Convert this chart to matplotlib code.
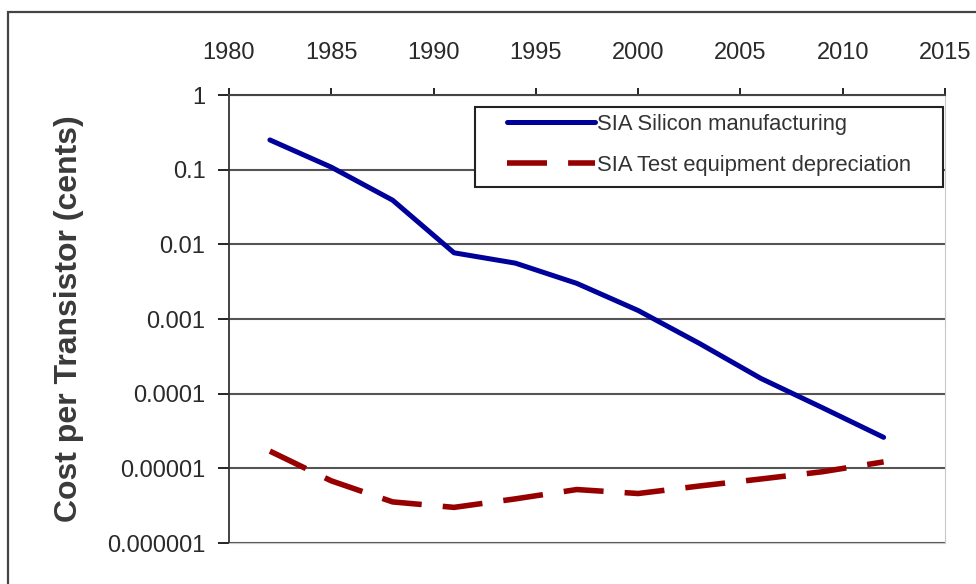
import matplotlib.pyplot as plt
from matplotlib.patches import Rectangle

plt.rcParams['font.family'] = ['Liberation Sans', 'DejaVu Sans']

# values
years = [1982, 1985, 1988, 1991, 1994, 1997, 2000, 2003, 2006, 2009, 2012]
silicon = [0.25, 0.108, 0.039, 0.0077, 0.0056, 0.0030, 0.0013, 0.00047, 0.00016, 0.000065, 0.000026]
test_equip = [1.7e-5, 6.8e-6, 3.55e-6, 3.0e-6, 3.9e-6, 5.2e-6, 4.6e-6, 5.8e-6, 7.2e-6, 9.0e-6, 1.22e-5]

x_ticks = [1980, 1985, 1990, 1995, 2000, 2005, 2010, 2015]
y_ticks = [1, 0.1, 0.01, 0.001, 0.0001, 0.00001, 0.000001]
y_labels = ['1', '0.1', '0.01', '0.001', '0.0001', '0.00001', '0.000001']

fig = plt.figure(figsize=(9.76, 5.84), dpi=100)
ax = fig.add_axes([229 / 976, 1 - 543 / 584, 716 / 976, 448 / 584])

# outer frame of the picture (cut off at right and bottom)
fig.patches.append(Rectangle((8 / 976, -0.1), 1.2, 1.1 - 12 / 584, transform=fig.transFigure,
                             fill=False, edgecolor='#444444', linewidth=1.6))

ax.plot(years, silicon, color='#00009a', linewidth=3.6, solid_capstyle='round',
        label='SIA Silicon manufacturing')
ax.plot(years, test_equip, color='#960000', linewidth=4, linestyle=(0, (7.2, 3.8)),
        dash_capstyle='butt', label='SIA Test equipment depreciation')

ax.set_yscale('log')
ax.set_ylim(1e-6, 1)
ax.set_xlim(1980, 2015)
ax.minorticks_off()
ax.set_yticks(y_ticks, y_labels)
ax.set_xticks(x_ticks)

ax.xaxis.tick_top()
ax.tick_params(axis='x', direction='out', length=5, width=1.2, pad=17, labelsize=17,
               labelcolor='#2a2a2a')
ax.tick_params(axis='y', direction='out', length=8, width=1.2, pad=9, labelsize=17,
               labelcolor='#2a2a2a')

ax.grid(axis='y', color='#555555', linewidth=1.5)
ax.set_axisbelow(True)
ax.spines['left'].set_color('#333333')
ax.spines['left'].set_linewidth(1.3)
ax.spines['top'].set_color('#444444')
ax.spines['top'].set_linewidth(1.5)
ax.spines['right'].set_color('#c8c8c8')
ax.spines['bottom'].set_color('#c8c8c8')

ax.set_ylabel('Cost per Transistor (cents)', fontsize=23, fontweight='bold', color='#3a3a3a')
ax.yaxis.set_label_coords(-0.203, 0.5)

# legend box drawn separately so the handles can sit inset like the original
ax.add_patch(Rectangle(((475 - 229) / 716, (543 - 187) / 448), 468 / 716, 80 / 448,
                       transform=ax.transAxes, facecolor='white', edgecolor='#222222',
                       linewidth=1.5, zorder=4))
leg = ax.legend(loc='upper left', bbox_to_anchor=((507 - 229) / 716, (543 - 114) / 448),
                fontsize=15.8, frameon=False, handlelength=4.0, handletextpad=0.12,
                borderpad=0, labelspacing=0.9, borderaxespad=0)
leg.set_zorder(5)
for t in leg.get_texts():
    t.set_color('#333333')

fig.savefig('out.png', dpi=100)
